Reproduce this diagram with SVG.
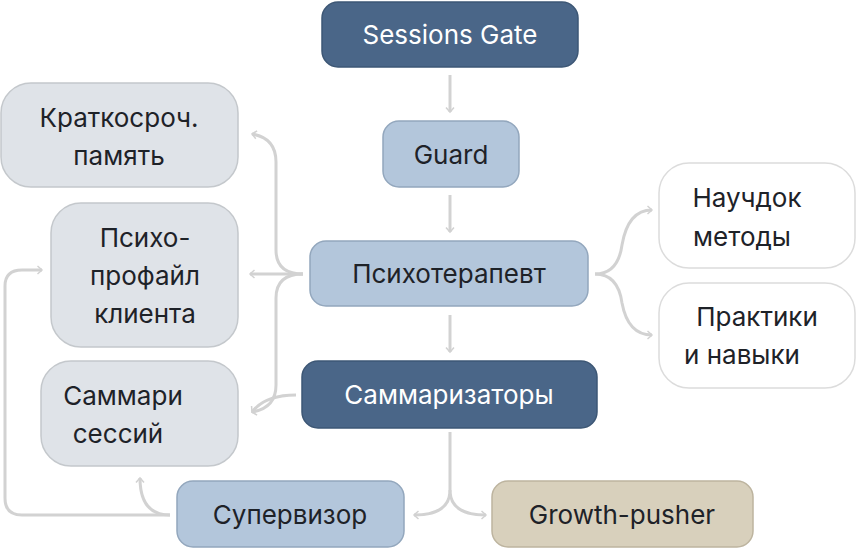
<svg xmlns="http://www.w3.org/2000/svg" width="856" height="550" viewBox="0 0 856 550">
<style>
text{font-family:Inter,"Noto Sans",sans-serif;font-size:26px;text-anchor:middle}
.dk rect{fill:#4a6688;stroke:#3d5775;stroke-width:1.5}
.dk text{fill:#fff}
.md rect{fill:#b3c6db;stroke:#93a7bd;stroke-width:1.5}
.lt rect{fill:#dfe3e8;stroke:#c4c8cc;stroke-width:1.5}
.wh rect{fill:#fff;stroke:#dcdcdc;stroke-width:1.5}
.gr rect{fill:#d8d0bc;stroke:#bdb49f;stroke-width:1.5}
text{fill:#1e2228}
.c path{fill:none;stroke:#d2d2d2;stroke-width:3}
</style>
<defs><marker id="a" viewBox="0 0 10 10" refX="9" refY="5" markerWidth="5" markerHeight="5" orient="auto" markerUnits="userSpaceOnUse" style="overflow:visible"><path d="M0,-3 L9,5 L0,13" transform="scale(1)" fill="none" stroke="#d2d2d2" stroke-width="3"/></marker></defs>
<g class="c">
<path d="M450,75 V112" marker-end="url(#a)"/>
<path d="M450,195 V232" marker-end="url(#a)"/>
<path d="M450,315 V352" marker-end="url(#a)"/>
<path d="M303,274 H250" marker-end="url(#a)"/>
<path d="M303,274 Q276,274 276,250 V162 Q276,138 252,134" marker-end="url(#a)"/>
<path d="M303,274 Q276,274 276,298 V385 Q276,408 252,412" marker-end="url(#a)"/>
<path d="M296,395 Q265,395 252,412" marker-end="url(#a)"/>
<path d="M595,274 Q618,274 622,245 Q628,210 652,210" marker-end="url(#a)"/>
<path d="M595,274 Q618,274 622,303 Q628,335 652,335" marker-end="url(#a)"/>
<path d="M450,432 V490 Q450,515 414,515" marker-end="url(#a)"/>
<path d="M450,490 Q450,515 486,515" marker-end="url(#a)"/>
<path d="M170,515 Q140,515 140,478" marker-end="url(#a)"/>
<path d="M170,515 H22 Q5,515 5,498 V286 Q5,270 22,270 H42" marker-end="url(#a)"/>
</g>
<g id="sessions" class="dk"><rect x="322" y="2" width="256" height="65" rx="16"/><text x="450" y="44">Sessions Gate</text></g>
<g id="guard" class="md"><rect x="383" y="121" width="136" height="66" rx="16"/><text x="451" y="164">Guard</text></g>
<g id="psy" class="md"><rect x="310" y="241" width="278" height="65" rx="16"/><text x="449" y="283">Психотерапевт</text></g>
<g id="summ" class="dk"><rect x="302" y="361" width="295" height="67" rx="16"/><text x="449" y="404">Саммаризаторы</text></g>
<g id="sup" class="md"><rect x="177" y="481" width="227" height="66" rx="16"/><text x="290" y="524">Супервизор</text></g>
<g id="growth" class="gr"><rect x="492" y="481" width="261" height="66" rx="16"/><text x="622" y="524">Growth-pusher</text></g>
<g id="stm" class="lt"><rect x="1" y="83" width="237" height="104" rx="30"/><text x="119" y="127">Краткосроч.</text><text x="119" y="165">память</text></g>
<g id="prof" class="lt"><rect x="51" y="203" width="187" height="144" rx="30"/><text x="145" y="247">Психо-</text><text x="145" y="285">профайл</text><text x="145" y="323">клиента</text></g>
<g id="ssum" class="lt"><rect x="41" y="361" width="197" height="105" rx="30"/><text x="123" y="405">Саммари</text><text x="118" y="443">сессий</text></g>
<g id="sci" class="wh"><rect x="659" y="163" width="196" height="105" rx="30"/><text x="747" y="207">Научдок</text><text x="742" y="246">методы</text></g>
<g id="prac" class="wh"><rect x="659" y="283" width="196" height="105" rx="30"/><text x="757" y="326">Практики</text><text x="742" y="364">и навыки</text></g>
</svg>
